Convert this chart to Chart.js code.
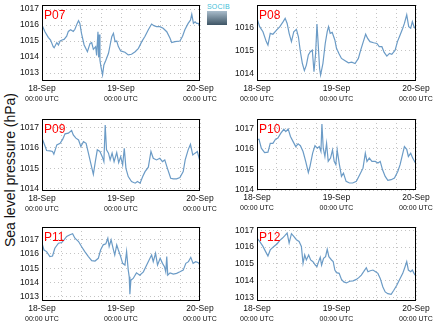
<!DOCTYPE html>
<html>
<head>
<meta charset="utf-8">
<script src="https://cdn.jsdelivr.net/npm/chart.js@4.4.1/dist/chart.umd.min.js"></script>
<style>
  body { margin: 0; background: #fff; width: 434px; height: 327px; overflow: hidden; position: relative;
         font-family: "Liberation Sans", Arial, sans-serif; }
  canvas { position: absolute; }
  #ylab { position: absolute; left: 10px; top: 170px; transform: translate(-50%, -50%) rotate(-90deg);
          white-space: nowrap; font-size: 14px; color: #111; }
  #logo { position: absolute; left: 207px; top: 3px; width: 20px; height: 22px; }
  #logo .t { font-size: 7px; line-height: 7px; color: #3fc0d8; letter-spacing: 0.2px; text-align: center; }
  #logo .b { margin-top: 1px; height: 14px; background: linear-gradient(#a9bccb, #3e5565); }
</style>
</head>
<body>
<div id="ylab">Sea level pressure (hPa)</div>
<div id="logo"><div class="t">SOCIB</div><div class="b"></div></div>

<script>
// hours since 18-Sep 00:00 UTC
const dateLabels = ["18-Sep", "19-Sep", "20-Sep"];
const timeLabel = "00:00 UTC";

const hoursP07 = [0,0.9,1.9,2.6,3.4,3.7,4.5,5,5.5,6.1,6.7,7.5,8,8.7,9.5,10,10.7,11.1,11.5,12,12.8,13.8,14.6,15.1,15.6,16.3,16.6,17,17.2,17.4,17.6,17.9,18.4,18.8,19.4,20.2,20.7,21.2,21.7,22.2,22.7,23.2,23.9,25.2,26.2,27.2,28.3,29.3,30.3,31.3,32.3,33.3,34,34.8,35.8,36.8,37.9,38.9,39.4,40.4,41.9,42.7,43.4,44.4,45.1,45.5,46,46.5,47,47.5,48];
const presP07 = [1016.0,1015.58,1015.23,1015.06,1014.65,1014.58,1014.9,1014.75,1015.0,1015.06,1015.1,1015.3,1015.6,1015.7,1015.6,1015.73,1016.1,1016.27,1016.1,1015.48,1014.75,1014.33,1014.85,1014.9,1014.48,1014.65,1014.1,1015.58,1014.0,1015.4,1013.8,1013.4,1012.88,1013.5,1013.8,1014.23,1014.75,1015.27,1015.48,1014.96,1015.0,1014.65,1014.38,1014.3,1014.13,1014.17,1014.33,1014.54,1014.96,1015.3,1015.7,1016.06,1015.96,1015.9,1015.9,1015.8,1015.58,1015.17,1014.9,1014.96,1015.0,1015.3,1015.7,1016.1,1016.3,1016.67,1016.1,1016.2,1016.1,1016.1,1015.9];

const hoursP08 = [0,0.8,1.8,2.8,3.3,4,4.8,5.9,6.9,7.9,8.5,9.1,9.7,10.4,11.1,11.9,12.5,13.1,13.7,14.3,14.9,15.5,16.1,16.7,17.2,17.7,18.1,18.4,18.9,19.2,19.9,20.6,21.2,21.6,22.1,22.7,23.5,24,24.8,25.5,26.6,27.6,28.6,29.6,30.6,31.3,32.1,32.8,33.4,34.1,35.2,36.2,36.9,37.7,38.4,39.2,40,40.7,41.7,42.4,43.2,44,44.5,45.2,45.8,46.4,46.9,47.4,48];
const presP08 = [1016.39,1016.03,1015.81,1015.38,1015.23,1015.74,1015.7,1015.88,1016.03,1016.25,1016.39,1016.17,1015.74,1015.38,1015.81,1015.91,1015.59,1014.94,1014.43,1014.12,1014.36,1014.8,1014.94,1015.01,1014.07,1014.87,1016.14,1015.45,1014.22,1013.93,1014.43,1015.3,1015.81,1016.03,1015.74,1015.78,1015.45,1015.09,1014.84,1014.65,1014.55,1014.46,1014.49,1014.43,1014.65,1015.01,1015.38,1015.7,1015.52,1015.38,1015.33,1015.3,1015.16,1015.16,1014.91,1014.75,1014.87,1014.83,1015.01,1015.38,1015.67,1015.96,1016.17,1016.54,1016.03,1015.96,1016.25,1016.03,1015.91];

const hoursP09 = [0,0.6,1.4,2.4,3.2,3.6,4.5,5.5,6.3,7,8,9,9.5,10.3,11.1,11.8,12.6,13.4,14.1,14.8,15.6,16.2,16.8,17.6,18.3,18.8,19.2,19.6,20.2,20.7,21.3,21.9,22.7,23.3,23.9,24.5,25,25.5,26.2,27.2,28.3,29,29.8,30.6,31.3,32.3,33.1,33.8,34.8,35.8,36.6,37.3,38.1,39.1,39.9,40.9,41.9,42.9,43.5,44.4,45.1,45.8,46.5,47.2,48];
const presP09 = [1016.47,1016.22,1015.87,1015.85,1015.82,1015.69,1016.14,1016.22,1016.42,1016.68,1016.71,1016.84,1016.63,1016.47,1016.38,1016.06,1016.3,1016.22,1015.74,1015.25,1014.71,1015.33,1015.9,1015.82,1015.57,1015.33,1017.11,1015.9,1015.74,1015.41,1015.74,1015.33,1015.77,1015.28,1015.57,1015.17,1015.98,1015.0,1014.6,1014.36,1014.28,1014.36,1014.28,1014.6,1014.84,1015.06,1015.82,1015.49,1015.41,1015.49,1015.33,1015.41,1015.0,1014.52,1014.49,1014.49,1014.55,1014.84,1015.41,1015.9,1016.17,1015.65,1015.74,1015.82,1015.33];

const hoursP10 = [0,0.6,1.3,2.3,3.3,4,4.8,5.6,6.3,7.2,8.1,8.7,9.4,10.1,10.9,11.7,12.4,13.1,13.9,14.7,15.5,16,16.8,17.5,18.2,18.8,19.3,19.6,20,20.5,21,21.5,22.2,22.8,23.3,23.8,24.2,24.8,25.5,26.1,26.9,27.9,28.9,30,31,32,32.7,33.2,33.9,34.7,35.7,36.5,37.2,37.9,38.7,39.5,40.5,41.5,42.5,43.2,43.9,44.5,45.2,45.7,46.4,47,48];
const presP10 = [1016.44,1016.47,1016.03,1015.82,1015.84,1016.27,1016.27,1016.47,1016.52,1016.76,1016.95,1016.84,1016.97,1016.6,1016.35,1016.11,1016.24,1016.15,1015.87,1015.39,1014.85,1015.15,1015.79,1016.15,1016.03,1016.11,1015.87,1017.21,1016.03,1015.63,1016.27,1015.39,1015.55,1015.95,1015.39,1015.23,1015.95,1015.31,1014.66,1014.82,1014.42,1014.34,1014.34,1014.42,1014.74,1015.06,1015.79,1015.39,1015.55,1015.39,1015.39,1015.31,1015.39,1014.98,1014.66,1014.47,1014.5,1014.58,1014.9,1015.23,1015.71,1016.11,1015.98,1015.63,1015.79,1015.55,1015.27];

const hoursP11 = [0,0.6,1.4,2.4,3.2,3.9,5,6,6.7,7.5,8.5,9.3,10,11.1,12,13,14.1,15.1,16.1,17.1,17.8,18.6,19.4,20,20.4,21,21.6,22.1,22.7,23.2,23.9,24.5,25.2,25.7,26.2,26.5,26.7,27,27.7,28.7,29.7,30.8,31.8,32.8,33.3,33.8,34.5,35.1,35.9,36.6,37.2,37.6,37.9,38.2,38.9,39.9,40.9,41.9,42.9,43.7,44.5,45.2,45.9,46.7,47.5,48];
const presP11 = [1016.74,1016.27,1016.16,1015.81,1015.85,1016.39,1016.74,1016.79,1016.98,1017.21,1017.33,1017.4,1017.09,1016.86,1016.51,1016.16,1015.81,1015.53,1015.5,1015.69,1016.27,1016.63,1016.7,1017.09,1016.51,1016.98,1016.39,1015.92,1016.63,1016.27,1015.81,1015.34,1015.22,1016.16,1014.87,1014.4,1013.19,1014.17,1014.29,1014.68,1014.52,1014.75,1015.22,1015.69,1015.92,1015.46,1016.04,1015.22,1015.69,1015.34,1015.11,1014.75,1015.81,1014.52,1014.68,1014.59,1014.64,1014.75,1014.87,1015.34,1015.46,1015.76,1015.34,1015.46,1015.39,1015.22];

const hoursP12 = [0,0.8,1.8,2.6,3.3,4,5.1,6.1,6.9,7.7,8.4,9.1,9.7,10.4,11.1,11.9,12.7,13.4,13.9,14.4,14.9,15.6,16.2,16.9,17.6,18.1,18.6,19.1,19.5,20.1,20.7,21.2,21.7,22.5,23,23.5,24,24.8,25.5,26.2,27,28,29,30,30.8,31.5,32.2,33,33.5,34.2,35,35.8,36.5,37.2,38,38.7,39.5,40.5,41.3,42.2,43.2,44,44.7,45.2,45.7,46.4,46.9,47.4,48];
const presP12 = [1016.54,1016.34,1016.04,1015.73,1015.47,1015.83,1016.04,1016.2,1016.4,1016.54,1016.68,1016.84,1016.24,1016.8,1016.64,1016.44,1016.34,1016.04,1015.03,1015.53,1015.23,1015.53,1015.23,1015.13,1014.93,1014.83,1015.13,1015.39,1014.93,1015.33,1015.43,1015.87,1015.43,1015.23,1015.13,1014.63,1014.47,1014.43,1014.07,1013.92,1013.86,1013.96,1013.98,1014.07,1014.19,1014.33,1014.53,1014.77,1014.53,1014.59,1014.63,1014.53,1014.43,1014.13,1013.62,1013.32,1013.22,1013.18,1013.42,1013.72,1014.13,1014.43,1014.83,1015.13,1014.63,1014.53,1014.63,1014.43,1014.27];

// plot boxes in page pixels and y ranges
const panels = [
  { name: "P07", hours: hoursP07, pres: presP07, left: 42,  right: 200, top: 5,   bottom: 81,  ymin: 1012.5,  ymax: 1017.25 },
  { name: "P08", hours: hoursP08, pres: presP08, left: 257, right: 416, top: 5,   bottom: 81,  ymin: 1013.67, ymax: 1016.97 },
  { name: "P09", hours: hoursP09, pres: presP09, left: 42,  right: 200, top: 119, bottom: 191, ymin: 1013.9,  ymax: 1017.4 },
  { name: "P10", hours: hoursP10, pres: presP10, left: 257, right: 416, top: 119, bottom: 190, ymin: 1014.0,  ymax: 1017.45 },
  { name: "P11", hours: hoursP11, pres: presP11, left: 42,  right: 200, top: 227, bottom: 301, ymin: 1012.72, ymax: 1017.87 },
  { name: "P12", hours: hoursP12, pres: presP12, left: 257, right: 416, top: 227, bottom: 301, ymin: 1012.78, ymax: 1017.2 },
];

const YW = 40, PADT = 4, PADR = 18, XH1 = 13, XH2 = 11;
const gridColor = "#c4c4c4";
const FONT = "'Liberation Sans', Arial, sans-serif";

const framePlugin = {
  id: "frame",
  afterDraw(chart, args, opts) {
    const { ctx, chartArea: a } = chart;
    ctx.save();
    ctx.strokeStyle = "#000";
    ctx.lineWidth = 1;
    ctx.strokeRect(Math.round(a.left) + 0.5, Math.round(a.top) + 0.5,
                   Math.round(a.right - a.left) - 1, Math.round(a.bottom - a.top) - 1);
    ctx.fillStyle = "#ff0000";
    ctx.font = "12px " + FONT;
    ctx.textBaseline = "alphabetic";
    ctx.fillText(opts.label, a.left + 2, a.top + 14);
    ctx.restore();
  },
};

function fixFit(w, h) {
  return (s) => {
    if (w != null) s.width = w;
    if (h != null) s.height = h;
    s.paddingLeft = 0; s.paddingRight = 0; s.paddingTop = 0; s.paddingBottom = 0;
  };
}

panels.forEach((p) => {
  const cv = document.createElement("canvas");
  const w = (p.right - p.left) + YW + PADR;
  const h = (p.bottom - p.top) + PADT + XH1 + XH2;
  cv.width = w; cv.height = h;
  cv.style.left = (p.left - YW) + "px";
  cv.style.top = (p.top - PADT) + "px";
  cv.style.width = w + "px"; cv.style.height = h + "px";
  document.body.appendChild(cv);

  new Chart(cv.getContext("2d"), {
    type: "line",
    data: {
      datasets: [{
        data: p.hours.map((t, i) => ({ x: t, y: p.pres[i] })),
        borderColor: "#6b9bc6",
        borderWidth: 1.2,
        pointRadius: 0,
        tension: 0,
        fill: false,
      }],
    },
    options: {
      responsive: false,
      animation: false,
      events: [],
      layout: { padding: { left: 0, right: PADR, top: PADT, bottom: 0 } },
      plugins: { legend: { display: false }, tooltip: { enabled: false }, frame: { label: p.name } },
      scales: {
        x: {
          type: "linear", min: 0, max: 48, weight: 0,
          afterFit: fixFit(null, XH1),
          grid: { color: gridColor, drawTicks: false },
          border: { display: false, dash: [1, 3] },
          ticks: {
            stepSize: 6, autoSkip: false, maxRotation: 0, padding: 3,
            color: "#111", font: { family: FONT, size: 8.5 },
            callback: (v) => (v % 24 === 0 ? dateLabels[v / 24] : ""),
          },
        },
        x2: {
          type: "linear", position: "bottom", min: 0, max: 48, weight: 1,
          afterFit: fixFit(null, XH2),
          grid: { display: false, drawTicks: false },
          border: { display: false },
          ticks: {
            stepSize: 24, autoSkip: false, maxRotation: 0, padding: 1,
            color: "#111", font: { family: FONT, size: 7 },
            callback: () => timeLabel,
          },
        },
        y: {
          type: "linear", min: p.ymin, max: p.ymax,
          afterFit: fixFit(YW, null),
          grid: { color: gridColor, drawTicks: false },
          border: { display: false, dash: [1, 3] },
          ticks: {
            stepSize: 1, includeBounds: false, padding: 3,
            color: "#111", font: { family: FONT, size: 8.5 },
            callback: (v) => v.toFixed(0),
          },
        },
      },
    },
    plugins: [framePlugin],
  });
});
</script>
</body>
</html>
